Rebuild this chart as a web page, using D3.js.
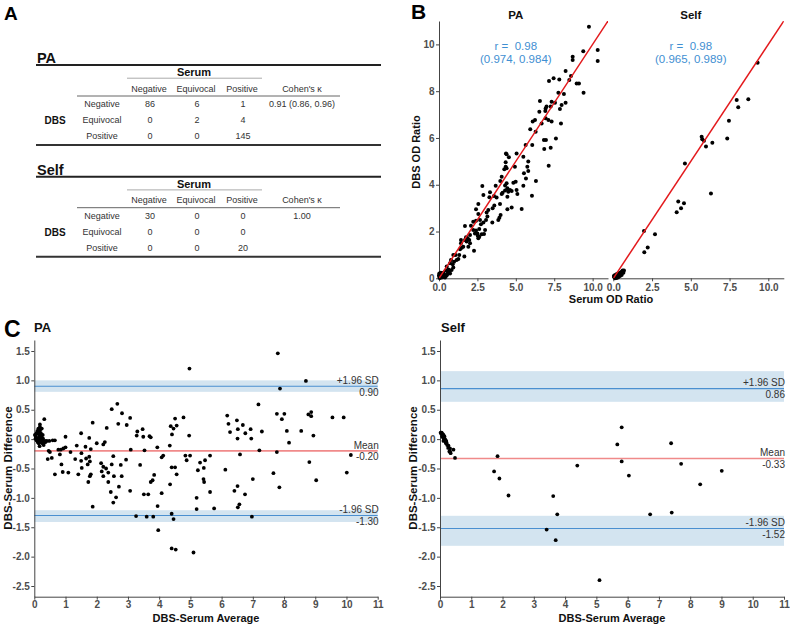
<!DOCTYPE html>
<html><head><meta charset="utf-8">
<script src="https://cdn.jsdelivr.net/npm/d3@7"></script>
<style>body{margin:0;background:#fff}svg{display:block}text{white-space:pre}</style>
</head><body>
<svg id="c" width="790" height="626"></svg>
<script>
// ---------------- DATA ----------------
const tableCols = ["Negative", "Equivocal", "Positive"];
const tableRows = ["Negative", "Equivocal", "Positive"];
const paTable = [[86, 6, 1], [0, 2, 4], [0, 0, 145]];
const paKappa = "0.91 (0.86, 0.96)";
const selfTable = [[30, 0, 0], [0, 0, 0], [0, 0, 20]];
const selfKappa = "1.00";

const paR = ["r =  0.98", "(0.974, 0.984)"];
const selfR = ["r =  0.98", "(0.965, 0.989)"];

const scatterXTicks = [0, 2.5, 5, 7.5, 10];
const scatterYTicks = [0, 2, 4, 6, 8, 10];
const baXTicks = [0,1,2,3,4,5,6,7,8,9,10,11];
const baYTicks = [1.5,1.0,0.5,0.0,-0.5,-1.0,-1.5,-2.0,-2.5];

// [serum, dbs]
const paScatter = [
[9.76,10.75],[9.39,9.71],[10.33,9.76],[10.33,9.29],[8.70,9.47],[8.70,9.33],[8.24,8.86],[8.59,8.65],[8.48,8.48],
[8.96,8.33],[9.11,8.33],[9.41,7.93],[7.83,8.50],[7.46,8.55],[7.16,8.43],[7.77,7.93],[8.13,7.88],[8.24,7.51],
[7.98,7.41],[7.87,7.24],[7.55,7.51],[7.33,7.55],[7.27,7.34],[6.94,7.26],[7.00,7.34],[6.92,7.15],[6.57,7.58],
[6.53,7.12],[6.25,6.77],[6.10,6.70],[6.94,6.84],[7.12,6.77],[7.33,6.70],[7.94,6.62],[6.68,6.62],[6.83,5.91],
[6.96,5.91],[6.85,5.53],[7.27,5.58],[7.61,5.98],[6.07,5.70],[5.64,5.70],[6.29,6.27],[5.94,6.37],[7.14,4.81],
[6.31,4.16],[5.49,5.20],[5.81,4.99],[5.75,4.77],[5.81,4.59],[5.53,4.49],[5.66,4.27],[5.49,3.96],[6.05,3.53],
[5.38,2.96],[5.05,5.34],[4.94,4.77],[4.84,4.09],[4.99,4.13],[5.05,3.77],[5.10,3.60],[4.73,3.03],[4.36,5.34],
[4.40,5.30],[4.55,5.17],[4.34,4.96],[4.34,4.77],[4.25,4.66],[4.40,4.70],[4.40,4.06],[4.30,3.97],[4.45,3.85],
[4.30,3.75],[4.51,3.70],[4.62,3.77],[4.14,3.66],[4.08,3.60],[4.45,3.49],[4.73,3.73],[4.45,2.95],[3.99,4.16],
[4.08,4.34],[3.97,3.18],[4.01,2.71],[3.93,2.59],[3.86,2.49],[3.69,3.96],[3.58,3.52],[3.75,3.45],[3.60,3.11],
[3.49,2.99],[3.47,2.39],[3.32,3.68],[3.28,3.46],[3.21,2.92],[3.10,2.81],[3.15,2.64],[3.06,2.49],[3.00,2.07],
[2.89,2.39],[2.82,3.95],[2.89,3.56],[2.56,3.18],[2.56,2.75],[2.67,2.49],[2.73,2.31],[2.62,2.11],[2.78,1.88],
[2.93,1.89],[2.41,2.95],[2.23,2.42],[2.41,2.46],[2.23,2.07],[2.41,2.04],[2.34,1.92],[2.50,1.92],[2.28,1.18],
[2.52,1.82],[2.62,1.78],[2.56,1.71],[2.08,2.25],[2.02,1.85],[1.97,1.64],[2.02,1.50],[1.91,1.35],[1.76,1.75],
[1.69,1.64],[1.80,1.57],[1.87,1.71],[1.69,2.24],[1.65,0.93],[1.43,1.64],[1.43,1.50],[1.37,1.24],[1.32,1.00],
[1.48,1.31],[1.58,1.35],[1.26,0.83],[1.08,1.00],[1.15,0.78],[0.98,0.71],[0.93,1.00],[0.89,0.60],[0.78,0.78],
[0.72,0.64],[0.61,0.38],[0.50,0.50],[0.43,0.33],[0.39,0.14],[0.56,0.19],[0.67,0.28],[0.82,0.36],[0.93,0.46],
[0.28,0.24],[0.17,0.21],[0.07,0.14],[0.02,0.07],[0.11,0.07],[0.20,0.10],[0.24,0.04],[0.07,0.03],[0.39,0.03],
[0.02,0.21],[0.04,0.10],[0.09,0.19],[0.13,0.13],[0.17,0.07],[0.22,0.16],[0.26,0.11],[0.30,0.07],[0.35,0.13],
[0.15,0.03],[0.04,0.01],[0.00,0.13],[0.11,0.24],[0.20,0.20],[0.28,0.16],[0.46,0.10],[0.52,0.14],[0.59,0.24],
[0.72,0.21]
];
const selfScatter = [
[9.31,9.22],[7.96,7.62],[8.71,7.65],[8.06,7.31],[7.46,6.74],[7.35,5.98],[5.70,6.05],[5.74,5.94],[5.85,5.88],
[6.39,5.80],[5.98,5.63],[6.30,3.63],[4.62,4.91],[4.19,3.28],[4.56,3.21],[4.37,2.99],[4.09,2.82],[1.98,2.02],
[2.69,1.88],[2.22,1.32],[2.00,1.11],
[0.06,0.04],[0.11,0.10],[0.17,0.13],[0.22,0.07],[0.26,0.19],[0.32,0.14],[0.39,0.21],[0.43,0.24],[0.47,0.19],
[0.54,0.28],[0.60,0.33],[0.65,0.24],[0.69,0.33],[0.11,0.00],[0.22,0.01],[0.32,0.04],[0.43,0.10],[0.54,0.14],
[0.04,0.10],[0.15,0.06],[0.28,0.10],[0.37,0.13],[0.49,0.21],[0.58,0.24],[0.09,0.13],[0.19,0.16]
];

// [average, difference]
const paBA = [
[7.80,1.46],[4.97,1.20],[8.70,0.99],[7.87,0.86],[2.66,0.60],[2.48,0.51],[2.81,0.44],[3.07,0.36],[7.18,0.59],
[6.18,0.40],[7.77,0.43],[8.01,0.43],[7.93,0.34],[8.78,0.42],[8.87,0.46],[8.87,0.39],[9.55,0.37],[9.91,0.37],
[4.78,0.37],[4.51,0.35],[4.56,0.23],[4.46,0.18],[4.37,0.22],[4.41,0.08],[4.34,-0.11],[4.96,0.06],[6.22,0.26],
[6.27,0.12],[6.49,0.32],[6.68,0.24],[6.76,0.10],[6.52,0.17],[6.93,0.17],[7.29,0.13],[6.95,0.01],[6.51,0.01],
[6.59,-0.26],[6.12,-0.52],[7.21,-0.19],[7.77,-0.22],[8.09,0.14],[8.55,0.14],[8.16,-0.06],[8.94,0.06],[10.14,-0.27],
[8.81,-0.39],[7.66,-0.58],[7.85,-0.82],[9.03,-0.70],[10.01,-0.57],[7.00,-0.68],[6.75,-0.94],[6.51,-0.80],[6.41,-0.88],
[6.57,-1.11],[6.52,-1.16],[6.97,-1.32],[5.63,-0.28],[5.47,-0.36],[5.31,-0.40],[5.43,-0.49],[5.24,-0.53],[5.42,-0.68],
[5.44,-0.73],[5.63,-0.90],[5.76,-1.18],[5.20,-1.00],[5.20,-1.19],[5.10,-1.93],[4.99,-0.28],[4.84,-0.28],[4.88,-0.36],
[4.56,-0.60],[4.51,-0.48],[4.40,-0.48],[4.13,-0.28],[4.08,-0.31],[3.94,-0.14],[4.35,-0.77],[4.08,-0.92],[3.95,-1.14],
[3.97,-1.55],[4.40,-1.27],[4.46,-1.36],[4.40,-1.86],[4.53,-1.88],[3.81,-1.32],[3.60,-1.32],[3.26,-1.31],[3.84,-0.61],
[3.79,-0.70],[3.73,-0.73],[3.65,-0.94],[3.51,-0.94],[3.39,-0.44],[3.53,-0.19],[3.49,0.04],[3.47,0.17],[3.69,0.05],
[3.73,0.03],[3.28,0.06],[3.30,0.13],[3.09,-0.18],[2.94,-0.35],[3.07,-0.88],[2.96,0.24],[2.69,0.26],[2.53,-0.29],
[2.48,-0.43],[2.55,-0.63],[2.45,-0.90],[2.53,-1.08],[2.62,-0.99],[2.71,-0.81],[2.77,-0.44],[2.80,-0.63],[2.37,-0.73],
[2.37,-0.57],[2.30,-0.50],[2.21,-0.47],[2.14,-0.41],[2.16,-0.55],[2.21,-0.63],[2.32,0.19],[2.26,-0.05],[2.21,-0.09],
[2.00,-0.07],[1.87,0.28],[1.87,-1.15],[1.78,-0.38],[1.76,-0.30],[1.78,-0.63],[1.81,-0.60],[1.73,-0.73],[1.71,-0.43],
[1.66,-0.33],[1.64,-0.13],[1.76,0.02],[1.81,-0.17],[1.51,-0.24],[1.50,0.10],[1.50,-0.37],[1.52,-0.49],[1.41,-0.60],
[1.36,-0.11],[1.31,-0.34],[1.16,-0.22],[1.00,0.04],[1.00,-0.14],[0.93,-0.16],[0.85,-0.18],[0.91,-0.56],[0.87,-0.43],
[1.09,-0.57],[0.66,-0.60],[0.77,-0.18],[0.82,-0.26],[0.66,-0.02],[0.59,-0.02],[0.56,-0.32],[0.43,-0.34],[0.46,-0.20],
[0.50,-0.22],[0.32,0.34],[0.18,0.25],[0.48,-0.03],
[0.02,0.07],[0.05,0.04],[0.07,0.10],[0.10,0.14],[0.11,0.01],[0.13,0.18],[0.13,0.09],[0.15,-0.02],[0.16,0.13],
[0.16,0.05],[0.18,0.21],[0.18,0.15],[0.19,0.01],[0.20,-0.05],[0.21,0.10],[0.22,0.04],[0.24,0.18],[0.25,-0.02],
[0.26,-0.07],[0.27,0.07],[0.28,0.01],[0.29,-0.06],[0.30,-0.10],[0.32,-0.05],[0.34,-0.03],[0.36,-0.05],[0.40,-0.03],
[0.07,-0.02],[0.11,-0.05],[0.14,-0.07],[0.17,-0.12],[0.04,0.01]
];
const selfBA = [
[5.81,0.20],[5.67,-0.09],[5.81,-0.38],[6.04,-0.62],[7.39,-0.07],[7.71,-0.42],[9.01,-0.54],[8.32,-0.77],[7.41,-1.25],
[6.72,-1.28],[4.39,-0.45],[5.10,-2.40],[3.62,-0.97],[3.75,-1.28],[3.41,-1.54],[3.70,-1.72],[2.19,-0.96],[1.84,-0.29],
[1.73,-0.55],[1.90,-0.67],
[0.48,-0.32],[0.43,-0.18],[0.32,-0.16],[0.30,-0.21],[0.27,-0.11],[0.21,-0.06],[0.18,-0.04],[0.16,0.00],[0.13,0.01],
[0.11,0.04],[0.09,0.07],[0.06,0.10],[0.05,0.11],[0.04,0.09],[0.13,-0.01],[0.19,-0.07],[0.23,-0.10],[0.32,-0.21],
[0.34,-0.24],[0.09,0.03],[0.11,-0.03],[0.17,-0.03],[0.02,0.11],[0.07,0.05],[0.12,0.02],[0.15,0.00],[0.10,0.08],
[0.14,0.05],[0.20,-0.03],[0.26,-0.15]
];

// Bland-Altman summary: mean, upper LoA, lower LoA and their CI bands
const paLimits = {upper: 0.90, lower: -1.30, mean: -0.20};
const paBands = {upper: [0.805, 1.0], lower: [-1.41, -1.21]};
const selfLimits = {upper: 0.86, lower: -1.52, mean: -0.33};
const selfBands = {upper: [0.635, 1.157], lower: [-1.816, -1.305]};

// ---------------- DRAW ----------------
const FONT = "'Liberation Sans', Arial, Helvetica, sans-serif";
const svg = d3.select("#c").style("font-family", FONT);
const AX = "#444", TICKC = "#4d4d4d";

function txt(x, y, s, o = {}) {
  const t = svg.append("text").attr("x", x).attr("y", y).text(s)
    .attr("font-size", o.size || 9).attr("font-weight", o.bold ? "bold" : "normal")
    .attr("text-anchor", o.anchor || "start").attr("fill", o.fill || "#222");
  if (o.rotate) t.attr("transform", `rotate(-90,${x},${y})`);
  return t;
}
function styleAxis(g, size) {
  g.select(".domain").attr("stroke", AX).attr("stroke-width", 1);
  g.selectAll(".tick line").attr("stroke", AX);
  g.selectAll(".tick text").attr("font-size", size).attr("font-weight", "bold")
    .attr("fill", TICKC).attr("font-family", FONT);
}

// ---- Panel A: tables ----
txt(4, 20, "A", {size: 19, bold: true, fill: "#000"});
function drawTable(dy, title, data, kappa) {
  const colX = [149, 196, 242], kX = 302;
  txt(37, 63.3 + dy, title, {size: 14.5, bold: true, fill: "#111"});
  svg.append("line").attr("x1", 36).attr("x2", 381).attr("y1", 65 + dy).attr("y2", 65 + dy)
    .attr("stroke", "#222").attr("stroke-width", 2);
  txt(194, 76 + dy, "Serum", {size: 11, bold: true, anchor: "middle", fill: "#111"});
  svg.append("line").attr("x1", 127).attr("x2", 262).attr("y1", 78.2 + dy).attr("y2", 78.2 + dy)
    .attr("stroke", "#aaa").attr("stroke-width", 1);
  tableCols.forEach((c, i) => txt(colX[i], 91.7 + dy, c, {size: 9, anchor: "middle", fill: "#333"}));
  txt(kX, 91.7 + dy, "Cohen's κ", {size: 9, anchor: "middle", fill: "#333"});
  svg.append("line").attr("x1", 77).attr("x2", 340).attr("y1", 96 + dy).attr("y2", 96 + dy)
    .attr("stroke", "#666").attr("stroke-width", 1);
  const rowY = [107.3, 123.3, 139.3];
  tableRows.forEach((r, i) => {
    txt(102, rowY[i] + dy, r, {size: 9, anchor: "middle", fill: "#333"});
    data[i].forEach((v, j) => txt(colX[j] + 1, rowY[i] + dy, v, {size: 9, anchor: "middle", fill: "#333"}));
  });
  txt(kX, rowY[0] + dy, kappa, {size: 9, anchor: "middle", fill: "#333"});
  txt(55, 124 + dy, "DBS", {size: 10, bold: true, anchor: "middle", fill: "#111"});
  svg.append("line").attr("x1", 36).attr("x2", 381).attr("y1", 145 + dy).attr("y2", 145 + dy)
    .attr("stroke", "#333").attr("stroke-width", 2);
}
drawTable(0, "PA", paTable, paKappa);
drawTable(111.7, "Self", selfTable, selfKappa);

// ---- Panel B: scatter plots ----
txt(411, 18.5, "B", {size: 21, bold: true, fill: "#000"});
const yB = d3.scaleLinear().domain([0, 11]).range([278.3, 21]);
function scatterPanel(x0, x1, data, rtxt, title, showY) {
  const x = d3.scaleLinear().domain([0, 11]).range([x0, x1]);
  const clipId = "clip" + Math.round(x0);
  svg.append("clipPath").attr("id", clipId).append("rect")
    .attr("x", x0).attr("y", 21).attr("width", x1 - x0).attr("height", 278.3 - 21);
  const gx = svg.append("g").attr("transform", `translate(0,278.3)`)
    .call(d3.axisBottom(x).tickValues(scatterXTicks).tickFormat(d => d.toFixed(1)).tickSize(3).tickPadding(3).tickSizeOuter(0));
  styleAxis(gx, 10);
  if (showY) {
    const gy = svg.append("g").attr("transform", `translate(${x0},0)`)
      .call(d3.axisLeft(yB).tickValues(scatterYTicks).tickFormat(d3.format("d")).tickSize(3).tickPadding(1.5).tickSizeOuter(0));
    styleAxis(gy, 10);
  }
  svg.append("g").selectAll("circle").data(data).join("circle")
    .attr("cx", d => x(d[0])).attr("cy", d => yB(d[1])).attr("r", 2).attr("fill", "#000");
  svg.append("line").attr("clip-path", `url(#${clipId})`)
    .attr("x1", x(0)).attr("y1", yB(0)).attr("x2", x(11)).attr("y2", yB(11))
    .attr("stroke", "#e3191c").attr("stroke-width", 1.5);
  const cx = x(5.0);
  txt(cx, 50, rtxt[0], {size: 11.5, anchor: "middle", fill: "#3f8fd2"});
  txt(cx, 62.5, rtxt[1], {size: 11.5, anchor: "middle", fill: "#3f8fd2"});
  txt(cx, 19.3, title, {size: 11.5, bold: true, anchor: "middle", fill: "#111"});
}
scatterPanel(439, 608, paScatter, paR, "PA", true);
scatterPanel(613.3, 783.8, selfScatter, selfR, "Self", false);
txt(416, 152, "DBS OD Ratio", {size: 11, bold: true, anchor: "middle", rotate: true, fill: "#111"}).attr("dy", "0.35em");
txt(611, 303, "Serum OD Ratio", {size: 11, bold: true, anchor: "middle", fill: "#111"});

// ---- Panel C: Bland-Altman ----
txt(4, 337, "C", {size: 23, bold: true, fill: "#000"});
const yC = d3.scaleLinear().domain([-2.682, 1.687]).range([596.7, 340]);
function baPanel(x0, x1, data, lim, bands, title, titleX, ytitleX) {
  const x = d3.scaleLinear().domain([0, 11]).range([x0, x1]);
  [bands.upper, bands.lower].forEach(b => {
    svg.append("rect").attr("x", x0).attr("width", x1 - x0)
      .attr("y", yC(b[1])).attr("height", yC(b[0]) - yC(b[1]))
      .attr("fill", "#d3e4f0");
  });
  [lim.upper, lim.lower].forEach(v => {
    svg.append("line").attr("x1", x0).attr("x2", x1).attr("y1", yC(v)).attr("y2", yC(v))
      .attr("stroke", "#4a8fd0").attr("stroke-width", 1.1);
  });
  svg.append("line").attr("x1", x0).attr("x2", x1).attr("y1", yC(lim.mean)).attr("y2", yC(lim.mean))
    .attr("stroke", "#f08a8a").attr("stroke-width", 1.6);
  const gx = svg.append("g").attr("transform", `translate(0,596.7)`)
    .call(d3.axisBottom(x).tickValues(baXTicks).tickFormat(d3.format("d")).tickSize(3).tickPadding(1.5).tickSizeOuter(0));
  styleAxis(gx, 10);
  const gy = svg.append("g").attr("transform", `translate(${x0},0)`)
    .call(d3.axisLeft(yC).tickValues(baYTicks).tickFormat(d => d.toFixed(1)).tickSize(3).tickPadding(1.5).tickSizeOuter(0));
  styleAxis(gy, 10);
  svg.append("g").selectAll("circle").data(data).join("circle")
    .attr("cx", d => x(d[0])).attr("cy", d => yC(d[1])).attr("r", 1.9).attr("fill", "#000");
  const rx = x1 + 1;
  const lab = [["+1.96 SD", lim.upper], ["Mean", lim.mean], ["-1.96 SD", lim.lower]];
  lab.forEach(([s, v]) => {
    txt(rx, yC(v) - 2.2, s, {size: 10, anchor: "end", fill: "#333"});
    txt(rx, yC(v) + 9.5, v.toFixed(2), {size: 10, anchor: "end", fill: "#333"});
  });
  txt(titleX, 332, title, {size: 13, bold: true, fill: "#111"});
  txt(ytitleX, 468, "DBS-Serum Difference", {size: 11.5, bold: true, anchor: "middle", rotate: true, fill: "#111"}).attr("dy", "0.35em");
  txt((x0 + x1) / 2, 622, "DBS-Serum Average", {size: 11, bold: true, anchor: "middle", fill: "#111"});
}
baPanel(34.3, 377.7, paBA, paLimits, paBands, "PA", 34, 7.5);
baPanel(440, 784, selfBA, selfLimits, selfBands, "Self", 441, 412.5);
</script>
</body></html>
